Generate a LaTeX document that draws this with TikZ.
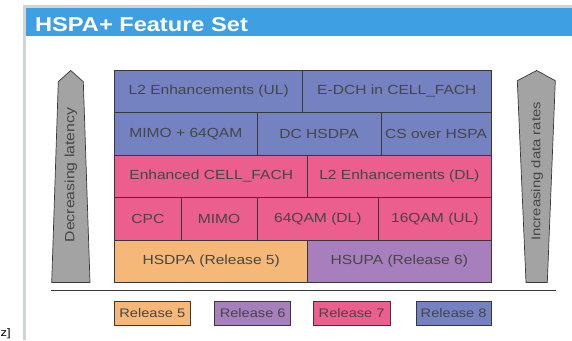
\documentclass[tikz,border=0pt]{standalone}
\usepackage{fontspec}
\setmainfont[FakeStretch=1.18]{Liberation Sans}
\definecolor{hdrblue}{HTML}{3EA0E2}
\definecolor{framegray}{HTML}{D2D5D6}
\definecolor{relfive}{HTML}{F6B879}
\definecolor{relsix}{HTML}{A77FBC}
\definecolor{relseven}{HTML}{EC5E8E}
\definecolor{releight}{HTML}{7482C2}
\definecolor{arrowgray}{HTML}{A3A3A3}
\definecolor{txt}{HTML}{464646}
\definecolor{edge}{HTML}{383838}
\begin{document}
\begin{tikzpicture}[x=1pt,y=-1pt,
  cell/.style={draw=edge, line width=0.8pt, inner sep=0pt, outer sep=0pt,
    anchor=north west, minimum height=42.5pt, text=txt,
    font=\fontsize{13.2}{15}\selectfont},
  legbox/.style={draw=edge, line width=0.8pt, inner sep=0pt, outer sep=0pt,
    anchor=north west, minimum height=24pt, text=txt,
    font=\fontsize{12.4}{14}\selectfont},
  bigarrow/.style={fill=arrowgray, draw=edge, line width=0.7pt, line join=miter},
  arrowtext/.style={rotate=90, text=txt, inner sep=0pt}]
\useasboundingbox (0,0) rectangle (572,340);
\fill[white] (0,0) rectangle (572,340);

% panel frame and header bar
\fill[framegray] (23,5) rectangle (572,8.3);
\fill[framegray] (23,5) rectangle (26,340);
\fill[hdrblue] (26,8.3) rectangle (572,36);
\node[anchor=base west, inner sep=0pt, text=white,
  font=\fontsize{20}{22}\selectfont\bfseries] (title) at (35,31) {HSPA+ Feature Set};

% row 1 (Release 8)
\node[cell, fill=releight, minimum width=188pt] (l2ul) at (114.7,70) {L2 Enhancements (UL)};
\node[cell, fill=releight, minimum width=188.3pt] (edch) at (302.7,70) {E-DCH in CELL\_FACH};
% row 2 (Release 8)
\node[cell, fill=releight, minimum width=142.3pt] (mimoqam) at (114.7,112.5) {MIMO + 64QAM};
\node[cell, fill=releight, minimum width=124pt] (dchsdpa) at (257,112.5) {DC HSDPA};
\node[cell, fill=releight, minimum width=110pt] (cshspa) at (381,112.5) {CS over HSPA};
% row 3 (Release 7)
\node[cell, fill=relseven, minimum width=193pt] (ecf) at (114.7,155) {Enhanced CELL\_FACH};
\node[cell, fill=relseven, minimum width=183.3pt] (l2dl) at (307.7,155) {L2 Enhancements (DL)};
% row 4 (Release 7)
\node[cell, fill=relseven, minimum width=66.3pt] (cpc) at (114.7,197.5) {CPC};
\node[cell, fill=relseven, minimum width=76pt] (mimo) at (181,197.5) {MIMO};
\node[cell, fill=relseven, minimum width=121.7pt] (qamdl) at (257,197.5) {64QAM (DL)};
\node[cell, fill=relseven, minimum width=112.3pt] (qamul) at (378.7,197.5) {16QAM (UL)};
% row 5 (Releases 5 and 6)
\node[cell, fill=relfive, minimum width=193pt] (hsdpa) at (114.7,240) {HSDPA (Release 5)};
\node[cell, fill=relsix, minimum width=183.3pt] (hsupa) at (307.7,240) {HSUPA (Release 6)};

% side arrows
\filldraw[bigarrow] (70.7,70.5) -- (83.3,81.7) -- (90,282.5) -- (51.7,282.5) -- (58.3,81.7) -- cycle;
\node[arrowtext, font=\fontsize{13.4}{15}\selectfont] (latency) at (71,175) {Decreasing latency};
\filldraw[bigarrow] (536.7,70.5) -- (555.3,80.7) -- (547.3,282.5) -- (526,282.5) -- (517.3,80.7) -- cycle;
\node[arrowtext, font=\fontsize{12.6}{15}\selectfont] (rates) at (537,171.5) {Increasing data rates};

% separator
\coordinate (sepl) at (51,290.7);
\coordinate (sepr) at (556,290.7);
\draw[edge, line width=1.1pt] (sepl) -- (sepr);

% legend
\node[legbox, fill=relfive, minimum width=75.3pt] (leg5) at (114.7,301) {Release 5};
\node[legbox, fill=relsix, minimum width=76pt] (leg6) at (214.7,301) {Release 6};
\node[legbox, fill=relseven, minimum width=76.7pt] (leg7) at (313.3,301) {Release 7};
\node[legbox, fill=releight, minimum width=75.3pt] (leg8) at (416,301) {Release 8};

\node[anchor=base west, inner sep=0pt, text=black, font=\fontsize{11}{13}\selectfont] (edgetxt) at (0.5,336) {z]};
\end{tikzpicture}
\end{document}
